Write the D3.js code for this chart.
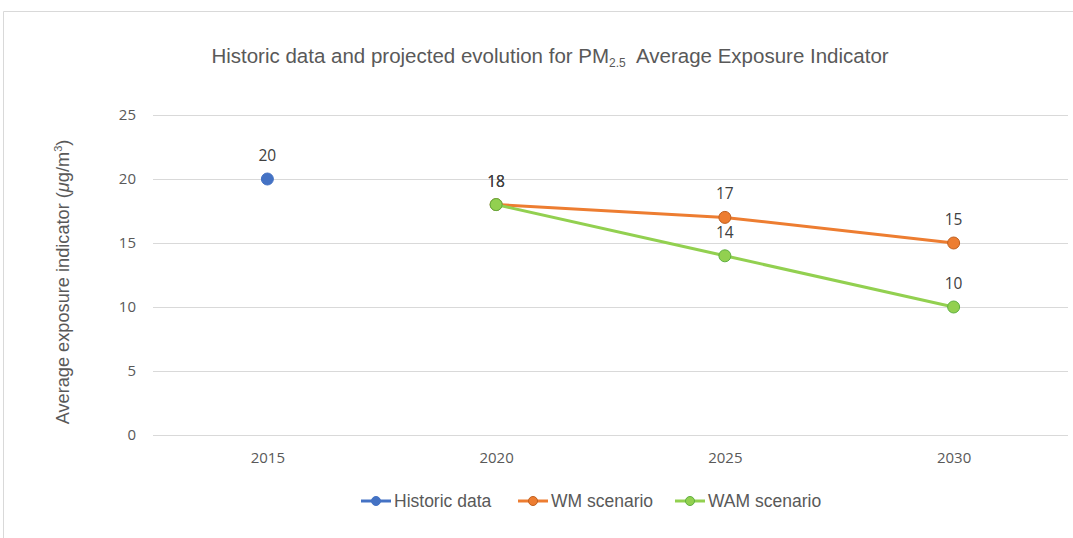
<!DOCTYPE html>
<html>
<head>
<meta charset="utf-8">
<script src="https://cdn.jsdelivr.net/npm/d3@7"></script>
<style>
  body { margin: 0; background: #fff; }
  text { font-family: "Liberation Sans", Arial, sans-serif; }
  .tick text, .dlabel { font-family: "Open Sans", "Liberation Sans", sans-serif; }
</style>
</head>
<body>
<div id="chart"></div>
<script>
// Data
var years = ["2015", "2020", "2025", "2030"];
var historic = [20, null, null, null];
var wm = [null, 18, 17, 15];
var wam = [null, 18, 14, 10];
var yTicks = [0, 5, 10, 15, 20, 25];

var svgWidth = 1073;
var svgHeight = 538;

var margin = { top: 115, right: 5, bottom: 103, left: 153 };
var width = svgWidth - margin.left - margin.right;
var height = svgHeight - margin.top - margin.bottom;

var svg = d3.select("#chart")
  .append("svg")
  .attr("width", svgWidth)
  .attr("height", svgHeight);

// frame
svg.append("path")
  .attr("d", "M3.5,538 L3.5,11.5 L1073,11.5")
  .attr("fill", "none")
  .attr("stroke", "#d9d9d9")
  .attr("stroke-width", 1);

var chartGroup = svg.append("g")
  .attr("transform", `translate(${margin.left}, ${margin.top})`);

var xScale = d3.scalePoint()
  .domain(years)
  .range([0, width])
  .padding(0.5);

var yScale = d3.scaleLinear()
  .domain([0, 25])
  .range([height, 0]);

// gridlines + y labels
var leftAxis = d3.axisLeft(yScale)
  .tickValues(yTicks)
  .tickSize(-width)
  .tickPadding(17);

var yAxisG = chartGroup.append("g").call(leftAxis);
yAxisG.select(".domain").remove();
yAxisG.selectAll("line").attr("stroke", "#d9d9d9");
yAxisG.selectAll("text").attr("fill", "#595959").attr("font-size", 15);

// x labels
var bottomAxis = d3.axisBottom(xScale).tickSize(0).tickPadding(17);
var xAxisG = chartGroup.append("g")
  .attr("transform", `translate(0, ${height})`)
  .call(bottomAxis);
xAxisG.select(".domain").remove();
xAxisG.selectAll("text").attr("fill", "#595959").attr("font-size", 15);

var series = [
  { name: "Historic data", values: historic, line: "#4472C4", fill: "#4472C4", stroke: "#4472C4" },
  { name: "WM scenario", values: wm, line: "#ED7D31", fill: "#ED7D31", stroke: "#C0601F" },
  { name: "WAM scenario", values: wam, line: "#92D050", fill: "#92D050", stroke: "#5FB040" }
];

var line = d3.line()
  .defined(d => d.v != null)
  .x(d => xScale(d.year))
  .y(d => yScale(d.v));

series.forEach(function(s) {
  var pts = years.map((y, i) => ({ year: y, v: s.values[i] }));
  chartGroup.append("path")
    .datum(pts)
    .attr("fill", "none")
    .attr("stroke", s.line)
    .attr("stroke-width", 3)
    .attr("d", line);
  chartGroup.selectAll(null)
    .data(pts.filter(d => d.v != null))
    .enter()
    .append("circle")
    .attr("cx", d => xScale(d.year))
    .attr("cy", d => yScale(d.v))
    .attr("r", 6)
    .attr("fill", s.fill)
    .attr("stroke", s.stroke)
    .attr("stroke-width", 1);
  chartGroup.selectAll(null)
    .data(pts.filter(d => d.v != null))
    .enter()
    .append("text")
    .attr("class", "dlabel")
    .attr("x", d => xScale(d.year))
    .attr("y", d => yScale(d.v) - 18)
    .attr("text-anchor", "middle")
    .attr("fill", "#404040")
    .attr("font-size", 15.5)
    .text(d => d.v);
});

// title
var title = svg.append("text")
  .attr("x", 550)
  .attr("y", 63)
  .attr("text-anchor", "middle")
  .attr("fill", "#595959")
  .attr("font-size", 20.5);
title.append("tspan").text("Historic data and projected evolution for PM");
title.append("tspan").attr("font-size", 12).attr("dy", 4).text("2.5");
title.append("tspan").attr("dy", -4).text("\u00a0 Average Exposure Indicator");

// y axis label
var yLabel = svg.append("text")
  .attr("transform", "translate(69, 282) rotate(-90)")
  .attr("text-anchor", "middle")
  .attr("fill", "#595959")
  .attr("font-size", 18.2);
yLabel.append("tspan").text("Average exposure indicator (");
yLabel.append("tspan").attr("font-style", "italic").text("\u03bc");
yLabel.append("tspan").text("g/m");
yLabel.append("tspan").attr("font-size", 11).attr("dy", -7).text("3");
yLabel.append("tspan").attr("dy", 7).text(")");

// legend
var legendX = [361, 518, 675];
var legend = svg.append("g");
series.forEach(function(s, i) {
  var g = legend.append("g").attr("transform", `translate(${legendX[i]}, 501)`);
  g.append("line")
    .attr("x1", 0).attr("x2", 30)
    .attr("stroke", s.line).attr("stroke-width", 3);
  g.append("circle")
    .attr("cx", 15).attr("r", 4.5)
    .attr("fill", s.fill).attr("stroke", s.stroke);
  g.append("text")
    .attr("x", 33).attr("y", 6)
    .attr("fill", "#595959")
    .attr("font-size", 17.5)
    .text(s.name);
});
</script>
</body>
</html>
